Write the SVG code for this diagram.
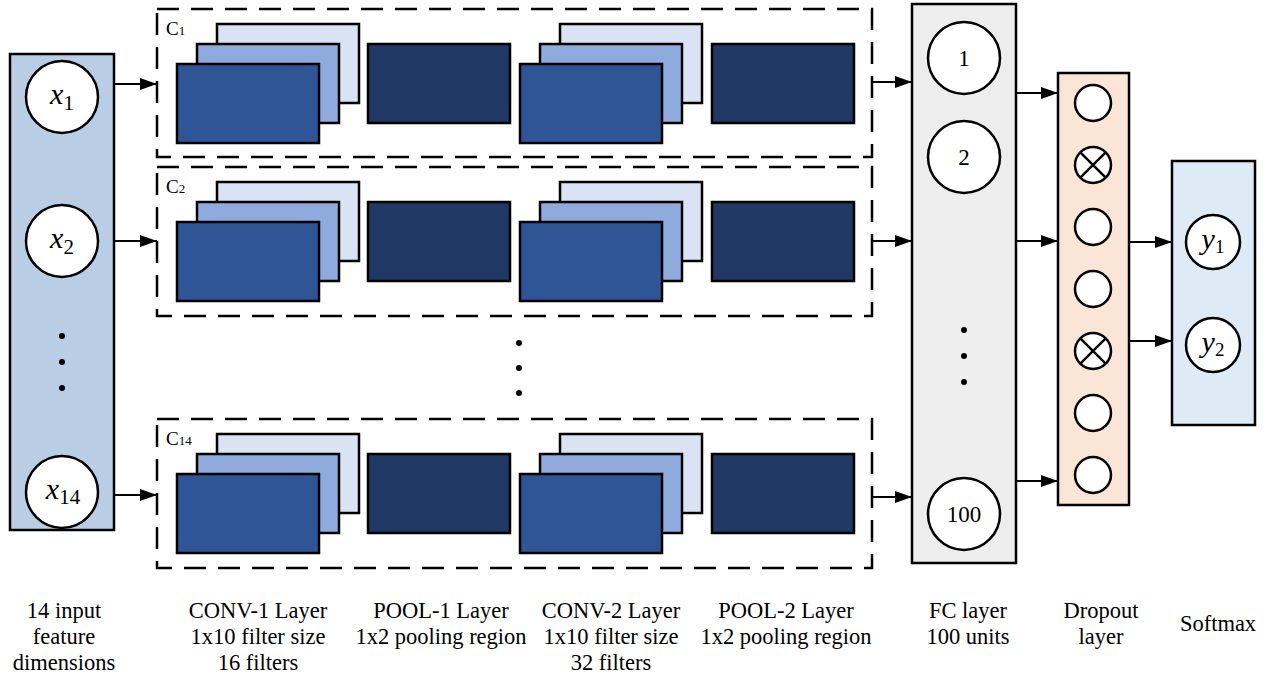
<svg xmlns="http://www.w3.org/2000/svg" width="1271" height="681" viewBox="0 0 1271 681">
  <style>
    .box { stroke: #000; stroke-width: 2.5; }
    .dash { fill: none; stroke: #000; stroke-width: 2.5; stroke-dasharray: 22 12; }
    .l1 { fill: #DAE3F3; stroke: #000; stroke-width: 2.5; }
    .l2 { fill: #8FAADC; stroke: #000; stroke-width: 2.5; }
    .l3 { fill: #2F5597; stroke: #000; stroke-width: 2.5; }
    .pool { fill: #203864; stroke: #000; stroke-width: 2.5; }
    .node { fill: #fff; stroke: #000; stroke-width: 2.5; }
    .cross { stroke: #000; stroke-width: 2.5; }
    .dot { fill: #000; }
    .edge { stroke: #000; stroke-width: 2; fill: none; marker-end: url(#arrow); }
    text { font-family: 'Liberation Serif', serif; fill: #000; }
    .cap { font-size: 22.5px; text-anchor: middle; }
    .num { font-size: 23px; text-anchor: middle; }
    .math { font-size: 30px; text-anchor: middle; }
    .chan { font-size: 19px; }
  </style>
  <defs>
    <marker id="arrow" markerUnits="userSpaceOnUse" markerWidth="17" markerHeight="12" refX="17" refY="6" orient="auto">
      <path d="M0,0 L17,6 L0,12 z" fill="#000"/>
    </marker>
    <!-- one channel: two stacked conv layers with pooling -->
    <g id="branch">
      <rect class="l1" x="217" y="0" width="142" height="79"/>
      <rect class="l2" x="197" y="20" width="142" height="79"/>
      <rect class="l3" x="177" y="40" width="142" height="79"/>
      <rect class="pool" x="368" y="20" width="142" height="79"/>
      <rect class="l1" x="560" y="0" width="142" height="79"/>
      <rect class="l2" x="540" y="20" width="142" height="79"/>
      <rect class="l3" x="520" y="40" width="142" height="79"/>
      <rect class="pool" x="712" y="20" width="142" height="79"/>
    </g>
  </defs>

  <!-- input features -->
  <g id="input">
    <rect class="box" x="10" y="54" width="104" height="476" fill="#B9CDE5"/>
    <circle class="node" cx="62" cy="97" r="36"/>
    <circle class="node" cx="62" cy="241" r="36"/>
    <circle class="node" cx="62" cy="492" r="36"/>
    <text class="math" x="62" y="104"><tspan font-style="italic">x</tspan><tspan font-size="21" dy="6">1</tspan></text>
    <text class="math" x="62" y="248"><tspan font-style="italic">x</tspan><tspan font-size="21" dy="6">2</tspan></text>
    <text class="math" x="63" y="499"><tspan font-style="italic">x</tspan><tspan font-size="21" dy="5">14</tspan></text>
    <circle class="dot" cx="62" cy="336" r="3"/>
    <circle class="dot" cx="62" cy="362" r="3"/>
    <circle class="dot" cx="62" cy="388" r="3"/>
  </g>

  <!-- channel branches -->
  <g id="channel-1">
    <rect class="dash" x="157" y="9" width="715" height="148"/>
    <text class="chan" x="166" y="35">C<tspan font-size="13">1</tspan></text>
    <use href="#branch" y="24"/>
  </g>
  <g id="channel-2">
    <rect class="dash" x="157" y="167" width="715" height="149"/>
    <text class="chan" x="166" y="193">C<tspan font-size="13">2</tspan></text>
    <use href="#branch" y="182"/>
  </g>
  <g id="channel-gap">
    <circle class="dot" cx="519" cy="343" r="3"/>
    <circle class="dot" cx="519" cy="368" r="3"/>
    <circle class="dot" cx="519" cy="393" r="3"/>
  </g>
  <g id="channel-14">
    <rect class="dash" x="157" y="419" width="715" height="149"/>
    <text class="chan" x="166" y="445">C<tspan font-size="13">14</tspan></text>
    <use href="#branch" y="434"/>
  </g>

  <!-- fully connected layer -->
  <g id="fc">
    <rect class="box" x="912" y="4" width="104" height="559" fill="#EDEDED"/>
    <circle class="node" cx="964" cy="58" r="36"/>
    <circle class="node" cx="964" cy="157" r="36"/>
    <circle class="node" cx="964" cy="514" r="36"/>
    <text class="num" x="964" y="66">1</text>
    <text class="num" x="964" y="165">2</text>
    <text class="num" x="964" y="522">100</text>
    <circle class="dot" cx="964" cy="330" r="3"/>
    <circle class="dot" cx="964" cy="356" r="3"/>
    <circle class="dot" cx="964" cy="382" r="3"/>
  </g>

  <!-- dropout layer -->
  <g id="dropout">
    <rect class="box" x="1058" y="73" width="71" height="432" fill="#FBE5D6"/>
    <circle class="node" cx="1093" cy="103" r="18"/>
    <circle class="node" cx="1093" cy="165" r="18"/>
    <path class="cross" d="M1080.3,152.3 L1105.7,177.7 M1105.7,152.3 L1080.3,177.7"/>
    <circle class="node" cx="1093" cy="227" r="18"/>
    <circle class="node" cx="1093" cy="289" r="18"/>
    <circle class="node" cx="1093" cy="351" r="18"/>
    <path class="cross" d="M1080.3,338.3 L1105.7,363.7 M1105.7,338.3 L1080.3,363.7"/>
    <circle class="node" cx="1093" cy="413" r="18"/>
    <circle class="node" cx="1093" cy="475" r="18"/>
  </g>

  <!-- softmax output -->
  <g id="softmax">
    <rect class="box" x="1172" y="161" width="83" height="264" fill="#DEEBF7"/>
    <circle class="node" cx="1213" cy="242" r="27"/>
    <circle class="node" cx="1213" cy="345" r="27"/>
    <text class="math" x="1213" y="249" font-size="27"><tspan font-style="italic">y</tspan><tspan font-size="19" dy="4">1</tspan></text>
    <text class="math" x="1213" y="352" font-size="27"><tspan font-style="italic">y</tspan><tspan font-size="19" dy="4">2</tspan></text>
  </g>

  <!-- connectors -->
  <g id="connectors">
    <path class="edge" d="M114,84 H157"/>
    <path class="edge" d="M114,241 H157"/>
    <path class="edge" d="M114,495 H157"/>
    <path class="edge" d="M872,82 H912"/>
    <path class="edge" d="M872,241 H912"/>
    <path class="edge" d="M872,497 H912"/>
    <path class="edge" d="M1016,93 H1058"/>
    <path class="edge" d="M1016,241 H1058"/>
    <path class="edge" d="M1016,481 H1058"/>
    <path class="edge" d="M1129,242 H1172"/>
    <path class="edge" d="M1129,341 H1172"/>
  </g>

  <!-- layer captions -->
  <g id="captions">
    <text class="cap" x="64" y="618">14 input</text>
    <text class="cap" x="64" y="644">feature</text>
    <text class="cap" x="64" y="670">dimensions</text>
    <text class="cap" x="258" y="618">CONV-1 Layer</text>
    <text class="cap" x="258" y="644">1x10 filter size</text>
    <text class="cap" x="258" y="670">16 filters</text>
    <text class="cap" x="441" y="618">POOL-1 Layer</text>
    <text class="cap" x="441" y="644">1x2 pooling region</text>
    <text class="cap" x="611" y="618">CONV-2 Layer</text>
    <text class="cap" x="611" y="644">1x10 filter size</text>
    <text class="cap" x="611" y="670">32 filters</text>
    <text class="cap" x="786" y="618">POOL-2 Layer</text>
    <text class="cap" x="786" y="644">1x2 pooling region</text>
    <text class="cap" x="968" y="618">FC layer</text>
    <text class="cap" x="968" y="644">100 units</text>
    <text class="cap" x="1101" y="618">Dropout</text>
    <text class="cap" x="1101" y="644">layer</text>
    <text class="cap" x="1218" y="631">Softmax</text>
  </g>
</svg>
